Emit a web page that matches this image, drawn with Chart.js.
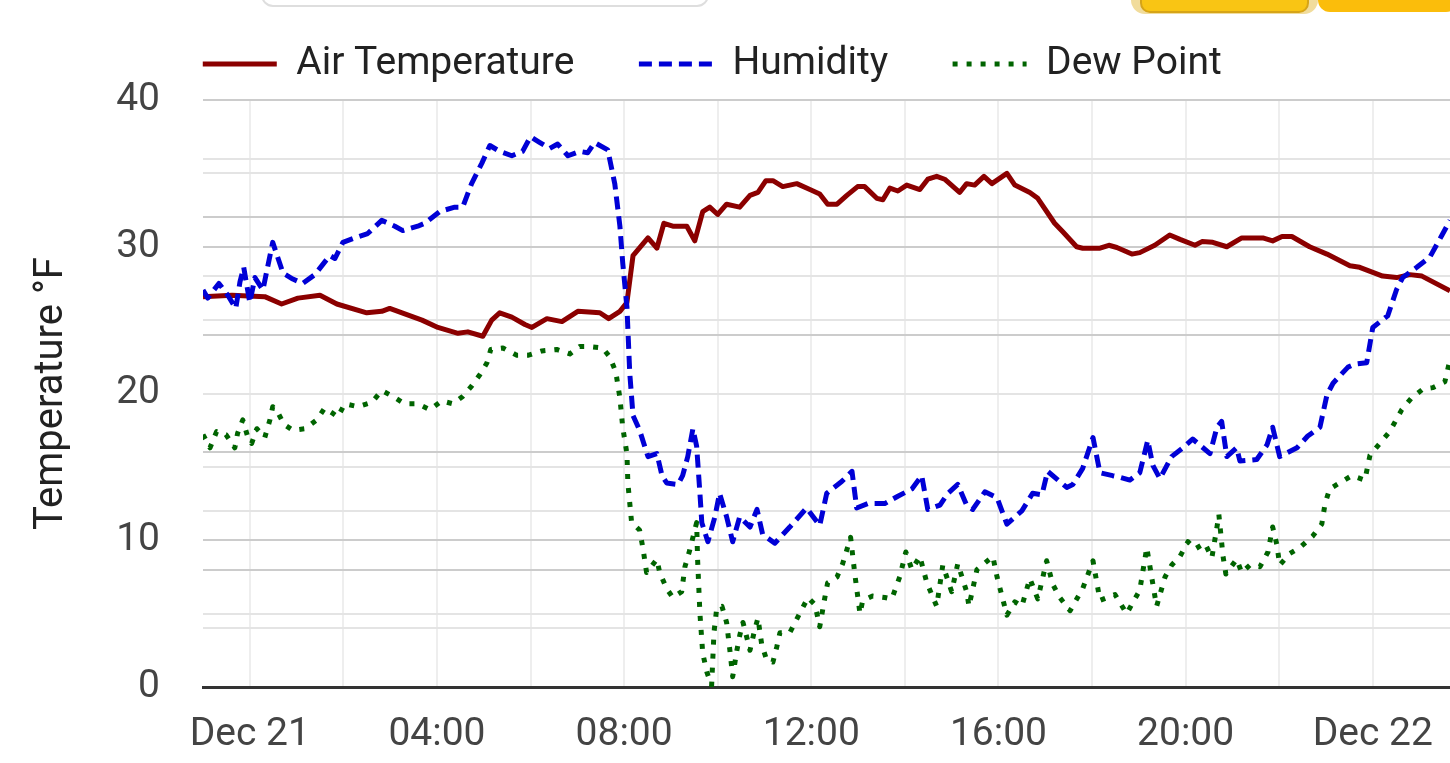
<!DOCTYPE html>
<html>
<head>
<meta charset="utf-8">
<script src="https://cdn.jsdelivr.net/npm/chart.js@4.4.1/dist/chart.umd.min.js"></script>
<style>
  html, body { margin: 0; padding: 0; background: #fff; overflow: hidden; }
  #wrap { position: relative; width: 1450px; height: 763px; }
  #chart { position: absolute; left: 0; top: 0; }
  .search { position: absolute; left: 261px; top: -40px; width: 444px; height: 43px; border: 2px solid #dedede; border-radius: 12px; background: #fff; }
  .halo { position: absolute; left: 1131px; top: -30px; width: 187px; height: 44px; background: #f1dc9c; border-radius: 14px; }
  .btn1 { position: absolute; left: 1140px; top: -22px; width: 165px; height: 31px; background: #f9c514; border: 2px solid #d6a418; border-radius: 10px; }
  .btn2 { position: absolute; left: 1318px; top: -30px; width: 140px; height: 42px; background: #fbbd0b; border-radius: 12px; }
</style>
</head>
<body>
<div id="wrap">
  <canvas id="chart" width="1450" height="763"></canvas>
  <div class="search"></div>
  <div class="halo"></div>
  <div class="btn1"></div>
  <div class="btn2"></div>
</div>
<script>
/* ================= DATA (hours from Dec 21 00:00) ================= */
const tempHours = [-1.00, -0.38, 0.32, 0.68, 1.03, 1.50, 1.86, 2.50, 2.82, 2.99, 3.68, 4.02, 4.45, 4.66, 4.98,
  5.17, 5.34, 5.60, 5.88, 6.03, 6.35, 6.67, 7.01, 7.48, 7.67, 7.91, 8.06, 8.19, 8.51, 8.70, 8.85, 9.04, 9.34,
  9.51, 9.68, 9.83, 10.00, 10.19, 10.47, 10.69, 10.86, 11.03, 11.18, 11.39, 11.69, 11.97, 12.18, 12.35, 12.55,
  12.76, 12.99, 13.14, 13.40, 13.53, 13.68, 13.85, 14.04, 14.32, 14.49, 14.68, 14.85, 15.17, 15.32, 15.49, 15.69,
  15.86, 16.18, 16.35, 16.67, 16.84, 17.20, 17.38, 17.67, 17.80, 18.17, 18.36, 18.53, 18.85, 19.02, 19.34, 19.66,
  19.88, 20.20, 20.35, 20.58, 20.88, 21.20, 21.65, 21.86, 22.06, 22.27, 22.65, 23.02, 23.51, 23.72, 24.21, 24.51,
  24.79, 25.05, 25.65];
const airTemp = [26.6, 26.7, 26.6, 26.1, 26.5, 26.7, 26.1, 25.5, 25.6, 25.8, 25.0, 24.5, 24.1, 24.2, 23.9,
  25.0, 25.5, 25.2, 24.7, 24.5, 25.1, 24.9, 25.6, 25.5, 25.1, 25.6, 26.2, 29.4, 30.6, 29.9, 31.6, 31.4, 31.4,
  30.4, 32.4, 32.7, 32.2, 32.9, 32.7, 33.5, 33.7, 34.5, 34.5, 34.1, 34.3, 33.9, 33.6, 32.9, 32.9,
  33.5, 34.1, 34.1, 33.3, 33.2, 34.0, 33.8, 34.2, 33.9, 34.6, 34.8, 34.6, 33.7, 34.3, 34.2, 34.8,
  34.3, 35.0, 34.2, 33.7, 33.3, 31.6, 31.0, 30.0, 29.9, 29.9, 30.1, 29.95, 29.5, 29.6, 30.1, 30.8,
  30.5, 30.1, 30.35, 30.3, 30.0, 30.6, 30.6, 30.4, 30.7, 30.7, 30.0, 29.5, 28.7, 28.6, 28.0, 27.9,
  28.1, 28.0, 27.0];

const humHours = [-1.00, -0.90, -0.66, -0.47, -0.30, -0.21, -0.13, 0.00, 0.11, 0.28, 0.36, 0.49, 0.71, 0.92,
  1.13, 1.39, 1.71, 1.82, 1.99, 2.24, 2.52, 2.82, 3.10, 3.27, 3.59, 3.74, 4.06, 4.38, 4.55, 4.74, 4.96, 5.13,
  5.34, 5.60, 5.83, 6.00, 6.20, 6.41, 6.58, 6.80, 7.05, 7.22, 7.37, 7.65, 7.80, 7.91, 7.97, 8.06, 8.12, 8.19,
  8.33, 8.51, 8.70, 8.81, 8.91, 9.15, 9.25, 9.36, 9.47, 9.55, 9.62, 9.66, 9.79, 9.94, 10.04, 10.19, 10.32,
  10.47, 10.69, 10.84, 10.96, 11.22, 11.54, 11.90, 12.18, 12.33, 12.65, 12.87, 12.97, 13.21, 13.57, 13.85,
  14.15, 14.36, 14.49, 14.75, 14.92, 15.13, 15.32, 15.45, 15.71, 15.97, 16.18, 16.50, 16.73, 16.93, 17.05,
  17.46, 17.59, 17.80, 18.02, 18.17, 18.44, 18.59, 18.81, 19.02, 19.19, 19.30, 19.45, 19.70, 19.94, 20.15,
  20.52, 20.67, 20.77, 20.88, 21.09, 21.16, 21.52, 21.74, 21.86, 22.01, 22.38, 22.61, 22.87, 23.02, 23.15,
  23.47, 23.62, 23.87, 24.00, 24.32, 24.51, 24.64, 24.94, 25.22, 25.48, 25.65];
const humidity = [27.05, 26.5, 27.5, 26.7, 25.8, 27.6, 28.6, 26.2, 27.9, 27.05, 28.3, 30.3, 28.2, 27.8,
  27.5, 28.1, 29.4, 29.2, 30.3, 30.6, 30.9, 31.8, 31.4, 31.1, 31.4, 31.6, 32.4, 32.7, 32.7, 34.3, 35.7, 36.9,
  36.5, 36.2, 36.5, 37.5, 37.1, 36.7, 37.0, 36.2, 36.5, 36.4, 37.1, 36.6, 34.3, 31.4, 28.9, 25.9, 21.4, 18.5,
  17.5, 15.7, 15.9, 14.4, 13.9, 13.8, 14.4, 15.7, 17.6, 16.4, 13.2, 11.2, 9.9, 11.6, 13.2, 11.6, 9.9,
  11.6, 10.9, 12.1, 10.4, 9.8, 10.9, 12.2, 11.0, 13.2, 14.0, 14.7, 12.2, 12.5, 12.5, 13.0,
  13.5, 14.4, 12.1, 12.4, 13.2, 13.8, 12.4, 12.1, 13.3, 12.9, 11.1, 12.0, 13.2, 13.1, 14.7,
  13.6, 13.8, 14.9, 17.0, 14.6, 14.4, 14.3, 14.1, 14.6, 16.8, 15.1, 14.2, 15.7, 16.3, 16.9,
  15.9, 17.7, 18.1, 15.7, 16.3, 15.4, 15.5, 16.5, 17.7, 15.7, 16.3, 17.1, 17.7, 19.9, 20.7,
  21.8, 22.0, 22.1, 24.5, 25.3, 27.1, 27.9, 28.6, 29.3, 30.8, 31.8];

const dewHours = [-1.00, -0.85, -0.71, -0.51, -0.32, -0.26, -0.15, -0.04, 0.04, 0.15, 0.32, 0.43, 0.49, 0.60,
  0.73, 0.92, 1.18, 1.43, 1.60, 1.75, 1.88, 2.03, 2.31, 2.61, 2.82, 3.06, 3.31, 3.59, 3.85, 4.10, 4.34, 4.55,
  4.74, 4.92, 5.07, 5.15, 5.41, 5.71, 5.94, 6.24, 6.56, 6.84, 7.05, 7.27, 7.54, 7.69, 7.82, 7.91, 7.97, 8.06,
  8.08, 8.16, 8.33, 8.40, 8.48, 8.70, 8.76, 8.91, 9.04, 9.23, 9.30, 9.40, 9.51, 9.55, 9.57, 9.62, 9.68, 9.77,
  9.87, 9.92, 9.98, 10.09, 10.19, 10.26, 10.32, 10.41, 10.47, 10.54, 10.62, 10.69, 10.79, 10.86, 10.94, 11.05,
  11.18, 11.26, 11.33, 11.54, 11.75, 11.93, 12.08, 12.18, 12.29, 12.35, 12.55, 12.67, 12.84, 12.93, 13.04,
  13.10, 13.31, 13.57, 13.72, 13.89, 14.02, 14.15, 14.32, 14.47, 14.68, 14.81, 15.00, 15.13, 15.32, 15.37,
  15.54, 15.88, 15.97, 16.18, 16.35, 16.50, 16.67, 16.84, 17.03, 17.16, 17.31, 17.53, 17.80, 18.02, 18.17,
  18.49, 18.74, 19.02, 19.17, 19.30, 19.38, 19.56, 19.70, 19.88, 20.05, 20.20, 20.41, 20.56, 20.67, 20.71,
  20.80, 20.86, 21.09, 21.20, 21.37, 21.59, 21.76, 21.86, 21.95, 22.01, 22.23, 22.44, 22.72, 22.91, 22.98,
  23.08, 23.34, 23.55, 23.83, 23.94, 24.15, 24.36, 24.62, 24.83, 25.07, 25.28, 25.54, 25.65];
const dewPoint = [17.2, 16.3, 17.4, 17.2, 16.3, 17.3, 18.2, 17.0, 16.6, 17.6, 17.0, 18.2, 19.1, 18.7,
  17.9, 17.5, 17.6, 18.2, 19.0, 18.7, 18.4, 19.3, 19.1, 19.4, 20.2, 19.8, 19.3, 19.3, 18.9, 19.5, 19.3, 19.8,
  20.5, 21.3, 22.1, 23.0, 23.1, 22.6, 22.6, 22.9, 23.0, 22.7, 23.2, 23.2, 23.1, 22.5, 21.5, 19.7, 17.7, 15.9,
  13.9, 11.2, 10.7, 9.5, 7.8, 8.7, 7.8, 6.7, 6.1, 6.5, 8.2, 9.3, 10.7, 11.2, 8.7, 5.0, 2.3, 1.0,
  0.1, 3.7, 5.4, 5.5, 4.4, 2.5, 0.7, 2.5, 3.5, 4.4, 3.4, 2.5, 3.9, 4.7, 2.9, 1.8,
  1.7, 2.7, 3.7, 3.7, 5.0, 6.1, 5.6, 4.1, 6.1, 7.1, 7.5, 8.4, 10.2, 7.7, 5.0,
  5.9, 6.2, 6.1, 6.0, 7.5, 9.2, 8.0, 8.9, 7.1, 5.5, 8.3, 6.5, 8.4, 6.5, 5.5,
  8.0, 8.9, 7.5, 4.9, 5.8, 5.5, 7.4, 6.0, 8.6, 7.0, 6.1, 5.2, 6.7, 8.6, 5.9,
  6.3, 5.0, 6.6, 9.5, 7.0, 5.5, 7.5, 8.3, 8.9, 9.9, 9.4, 9.8, 8.8, 10.9, 11.75,
  8.9, 7.7, 8.7, 7.8, 8.3, 8.2, 9.2, 10.9, 9.7, 8.3, 9.1, 9.5, 10.3, 11.1, 12.5,
  13.5, 14.0, 14.4, 14.1, 15.8, 16.6, 17.4, 18.9, 19.7, 20.3, 20.4, 20.8, 22.3];

/* ================= AXES ================= */
const seriesNames = ["Air Temperature", "Humidity", "Dew Point"];
const xGridHours = [0, 2, 4, 6, 8, 10, 12, 14, 16, 18, 20, 22, 24];
const xTickHours = [0, 4, 8, 12, 16, 20, 24];
const xTickLabels = ["Dec 21", "04:00", "08:00", "12:00", "16:00", "20:00", "Dec 22"];
const yTicks = [0, 10, 20, 30, 40];
// extra faint grid rows of the page's other (hidden) axes
const gridRowsA = [20, 40, 60, 80];      // 0..100 scale
const gridRowsB = [10, 30, 50, 70, 90];  // 0..100 scale
const gridRowsC = [5, 15, 25, 35];       // 0..40 scale

const toPoints = (hours, values) => hours.map((h, i) => ({ x: h, y: values[i] }));
const FONT = "Roboto";
const PAD_LEFT = -25.5;

function hiddenGridAxis(min, max, rows, color) {
  return {
    type: "linear",
    position: "left",
    min: min,
    max: max,
    afterBuildTicks: axis => { axis.ticks = rows.map(v => ({ value: v })); },
    ticks: { display: false },
    border: { display: false },
    grid: { color: color, lineWidth: 2, drawTicks: false }
  };
}

/* keep the legend band a little taller than Chart.js computes */
const legendBand = {
  id: "legendBand",
  afterInit(chart) {
    const fit = chart.legend.fit;
    chart.legend.fit = function () {
      fit.call(this);
      this.height += 6.5;
    };
  }
};

/* ================= CHART ================= */
const ctx = document.getElementById("chart");
new Chart(ctx, {
  type: "line",
  data: {
    datasets: [
      {
        label: seriesNames[0],
        data: toPoints(tempHours, airTemp),
        borderColor: "#8b0000",
        backgroundColor: "#8b0000",
        borderWidth: 5,
        order: 3
      },
      {
        label: seriesNames[1],
        data: toPoints(humHours, humidity),
        borderColor: "#0000d6",
        backgroundColor: "#0000d6",
        borderWidth: 5,
        borderDash: [13, 7],
        order: 2
      },
      {
        label: seriesNames[2],
        data: toPoints(dewHours, dewPoint),
        borderColor: "#006400",
        backgroundColor: "#006400",
        borderWidth: 5,
        borderDash: [5, 9],
        order: 1
      }
    ]
  },
  options: {
    responsive: false,
    animation: false,
    devicePixelRatio: 1,
    layout: { padding: { left: PAD_LEFT, top: -20, right: 0, bottom: 0 } },
    elements: { point: { radius: 0 }, line: { tension: 0, borderJoinStyle: "round" } },
    plugins: {
      tooltip: { enabled: false },
      legend: {
        position: "top",
        labels: {
          usePointStyle: true,
          pointStyle: "line",
          pointStyleWidth: 74,
          padding: 64.5,
          color: "#222",
          font: { family: FONT, size: 39 },
          sort: (a, b) => a.datasetIndex - b.datasetIndex,
          generateLabels: chart => {
            const items = Chart.defaults.plugins.legend.labels.generateLabels(chart);
            items.forEach(item => {
              const ds = chart.data.datasets[item.datasetIndex];
              item.lineDash = ds.borderDash || [];
              item.lineWidth = 5;
              item.strokeStyle = ds.borderColor;
            });
            return items;
          }
        }
      }
    },
    scales: {
      x: {
        type: "linear",
        min: -1.0,
        max: 25.65,
        afterBuildTicks: axis => { axis.ticks = xGridHours.map(v => ({ value: v })); },
        afterFit: axis => {
          axis.height = 76;
          axis.paddingRight = 0; // plot runs to the right edge of the page
        },
        ticks: {
          autoSkip: false,
          maxRotation: 0,
          padding: 24.6,
          color: "#444",
          font: { family: FONT, size: 39 },
          callback: value => {
            const i = xTickHours.indexOf(value);
            return i >= 0 ? xTickLabels[i] : "";
          }
        },
        border: { display: true, color: "#333", width: 3 },
        grid: { color: "#eeeeee", lineWidth: 2, drawTicks: false }
      },
      y: {
        min: 0,
        max: 40,
        afterBuildTicks: axis => { axis.ticks = yTicks.map(v => ({ value: v })); },
        afterFit: axis => { axis.width = 203 - PAD_LEFT; },
        ticks: {
          padding: 43,
          color: "#444",
          font: { family: FONT, size: 39 }
        },
        title: {
          display: true,
          text: "Temperature °F",
          color: "#222",
          font: { family: FONT, size: 40 },
          padding: { top: 53.5, bottom: 10 }
        },
        border: { display: false },
        grid: { color: "#cccccc", lineWidth: 2, drawTicks: false }
      },
      yA: hiddenGridAxis(0, 100, gridRowsA, "#cccccc"),
      yB: hiddenGridAxis(0, 100, gridRowsB, "#e4e4e4"),
      yC: hiddenGridAxis(0, 40, gridRowsC, "#e4e4e4")
    }
  },
  plugins: [legendBand]
});
</script>
</body>
</html>
